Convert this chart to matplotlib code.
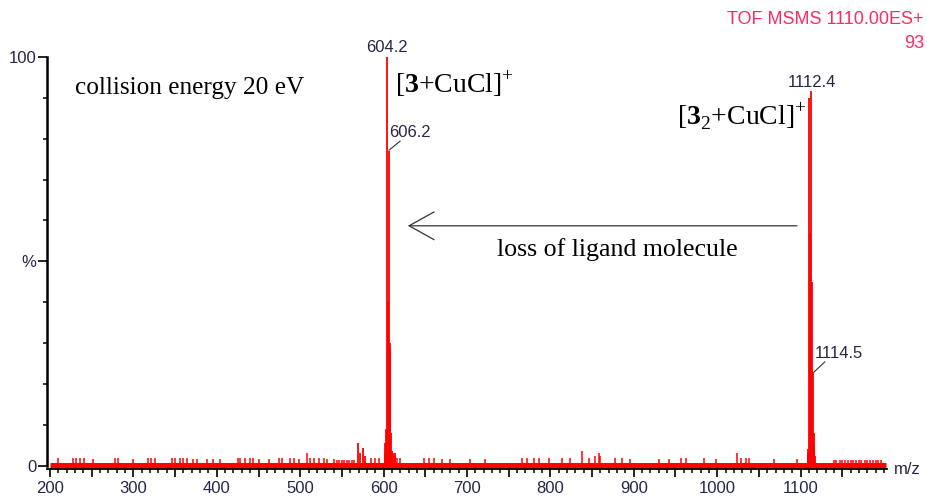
import matplotlib
matplotlib.use('Agg')
import matplotlib.pyplot as plt
from matplotlib.ticker import MultipleLocator

# spectrum: main isotope clusters
peak_mz = [601.2, 602.2, 603.2, 604.2, 605.2, 606.2, 607.2, 608.2, 609.2, 610.2,
           611.2, 613.2, 614.2, 569.2, 571.2, 575.2, 577.2,
           1108.4, 1109.4, 1110.4, 1111.4, 1112.4, 1113.4, 1114.5, 1115.5, 1116.5, 1117.5]
peak_int = [3.0, 5.6, 9.0, 100.0, 40.0, 77.0, 30.0, 28.0, 8.0, 3.5,
            3.0, 3.0, 2.5, 5.6, 3.0, 4.4, 2.5,
            3.0, 4.0, 90.0, 57.0, 91.7, 45.0, 23.0, 8.0, 5.0, 2.5]

# small noise sticks on the baseline
noise_mz = [210, 227, 231, 236, 241, 251, 278, 282, 300, 318, 321, 326, 346, 350, 356,
            360, 364, 371, 376, 388, 396, 404, 425, 428, 434, 440, 444, 450, 462, 474,
            478, 488, 492, 498, 508, 512, 516, 522, 528, 532, 540, 544, 547, 550, 553,
            556, 559, 562, 565, 585, 590, 595, 616, 620, 648, 654, 660, 670, 680,
            704, 722, 766, 772, 780, 786, 798, 814, 824, 838, 846, 854, 858, 860, 878,
            886, 896, 930, 942, 956, 962, 984, 998, 1024, 1028, 1034, 1038, 1068, 1096,
            1140, 1143, 1147, 1150, 1153, 1157, 1160, 1163, 1167, 1170, 1173, 1177,
            1180, 1183, 1187, 1190, 1193, 1196]
noise_int = [1.8, 1.8, 1.8, 1.8, 1.8, 1.6, 1.8, 1.8, 1.6, 1.8, 1.8, 1.8, 1.8, 1.8, 1.8,
             1.8, 1.8, 1.6, 1.6, 1.6, 1.6, 1.6, 1.8, 1.8, 1.8, 1.8, 1.8, 1.6, 1.6, 1.8,
             1.8, 1.8, 1.8, 1.6, 3.0, 2.0, 1.8, 1.8, 1.8, 1.6, 1.6, 1.5, 1.5, 1.5, 1.5,
             1.5, 1.5, 1.5, 1.5, 1.8, 1.8, 1.8, 2.0, 1.8, 1.8, 1.8, 1.8, 1.6, 1.6,
             1.6, 1.6, 1.8, 1.8, 1.8, 1.8, 1.8, 1.8, 1.8, 3.5, 1.8, 2.5, 3.0, 2.5, 1.8,
             1.8, 1.6, 1.6, 1.6, 1.8, 1.8, 1.8, 1.6, 3.0, 2.0, 1.8, 1.8, 1.6, 1.6,
             1.3, 1.3, 1.3, 1.3, 1.3, 1.3, 1.3, 1.3, 1.3, 1.3, 1.3, 1.3,
             1.3, 1.3, 1.3, 1.3, 1.3, 1.3]

ytick_vals = [0, 50, 100]
ytick_text = ['0', '%', '100']
xtick_vals = list(range(200, 1200, 50))

red = '#ff0000'
tickc = '#26264a'
serif = 'Liberation Serif'
sans = 'Liberation Sans'

plt.rcParams['font.family'] = sans
plt.rcParams['mathtext.fontset'] = 'custom'
plt.rcParams['mathtext.rm'] = serif
plt.rcParams['mathtext.bf'] = serif + ':bold'

fig = plt.figure(figsize=(9.28, 4.99), dpi=100)
ax = fig.add_axes([47 / 928, 1 - 469 / 499, 840 / 928, 412 / 499])

ax.set_xlim(196.4, 1203.6)
ax.set_ylim(-0.8, 100)

# baseline band
ax.hlines(0, 200, 1203, color=red, lw=5.0, zorder=1)
ax.vlines(noise_mz, 0, noise_int, color=red, lw=1.1, zorder=2)
ax.vlines(peak_mz, 0, peak_int, color=red, lw=1.3, zorder=3)

for s in ['top', 'right']:
    ax.spines[s].set_visible(False)
ax.spines['left'].set_linewidth(1.8)
ax.spines['bottom'].set_linewidth(1.3)
ax.spines['left'].set_bounds(0, 100)

ax.set_yticks(ytick_vals)
ax.set_yticklabels(ytick_text)
ax.yaxis.set_minor_locator(MultipleLocator(10))
ax.tick_params(axis='y', which='major', length=6.5, width=1.2, pad=1, labelsize=12, labelcolor=tickc)
ax.tick_params(axis='y', which='minor', length=3, width=1.1)

ax.set_xticks(xtick_vals)
ax.set_xticklabels([str(v) if v % 100 == 0 else '' for v in xtick_vals])
ax.xaxis.set_minor_locator(MultipleLocator(10))
ax.tick_params(axis='x', which='major', length=5.5, width=1.2, pad=3, labelsize=12, labelcolor=tickc)
ax.tick_params(axis='x', which='minor', length=3, width=1.1)

# peak labels
lab = dict(fontsize=12, color=tickc, family=sans, clip_on=False)
ax.text(604.2, 101.2, '604.2', ha='center', va='baseline', **lab)
ax.text(606.5, 80.4, '606.2', ha='left', va='baseline', **lab)
ax.plot([606.5, 619.7], [77.2, 79.4], color='#333333', lw=0.8)
ax.text(1114.0, 92.6, '1112.4', ha='center', va='baseline', **lab)
ax.text(1117.3, 26.3, '1114.5', ha='left', va='baseline', **lab)
ax.plot([1116.0, 1129.0], [22.9, 25.4], color='#333333', lw=0.8)

# annotations
ax.text(230, 92.5, 'collision energy 20 eV', family=serif, fontsize=18.2, va='center', ha='left')
ax.text(613.7, 91.2, r'$[\mathbf{3}\mathrm{+CuCl}]^{+}$', fontsize=20, va='baseline', ha='left')
ax.text(951.8, 83.4, r'$[\mathbf{3}_{2}\mathrm{+CuCl}]^{+}$', fontsize=20, va='baseline', ha='left')
ax.text(736, 51.3, 'loss of ligand molecule', family=serif, fontsize=18.6, va='baseline', ha='left')
ax.annotate('', xy=(625.7, 58.7), xytext=(1099, 58.7),
            arrowprops=dict(arrowstyle='->,head_length=0.9,head_width=0.5',
                            color='#333333', lw=0.9, mutation_scale=20))

fig.text(924 / 928, 1 - 20 / 499, 'TOF MSMS 1110.00ES+', color='#ff2a5f', fontsize=13,
         ha='right', va='center')
fig.text(924 / 928, 1 - 44 / 499, '93', color='#ff2a5f', fontsize=13, ha='right', va='center')
fig.text(894 / 928, 1 - 469 / 499, 'm/z', color=tickc, fontsize=12, ha='left', va='center')

fig.savefig('out.png', dpi=100)
